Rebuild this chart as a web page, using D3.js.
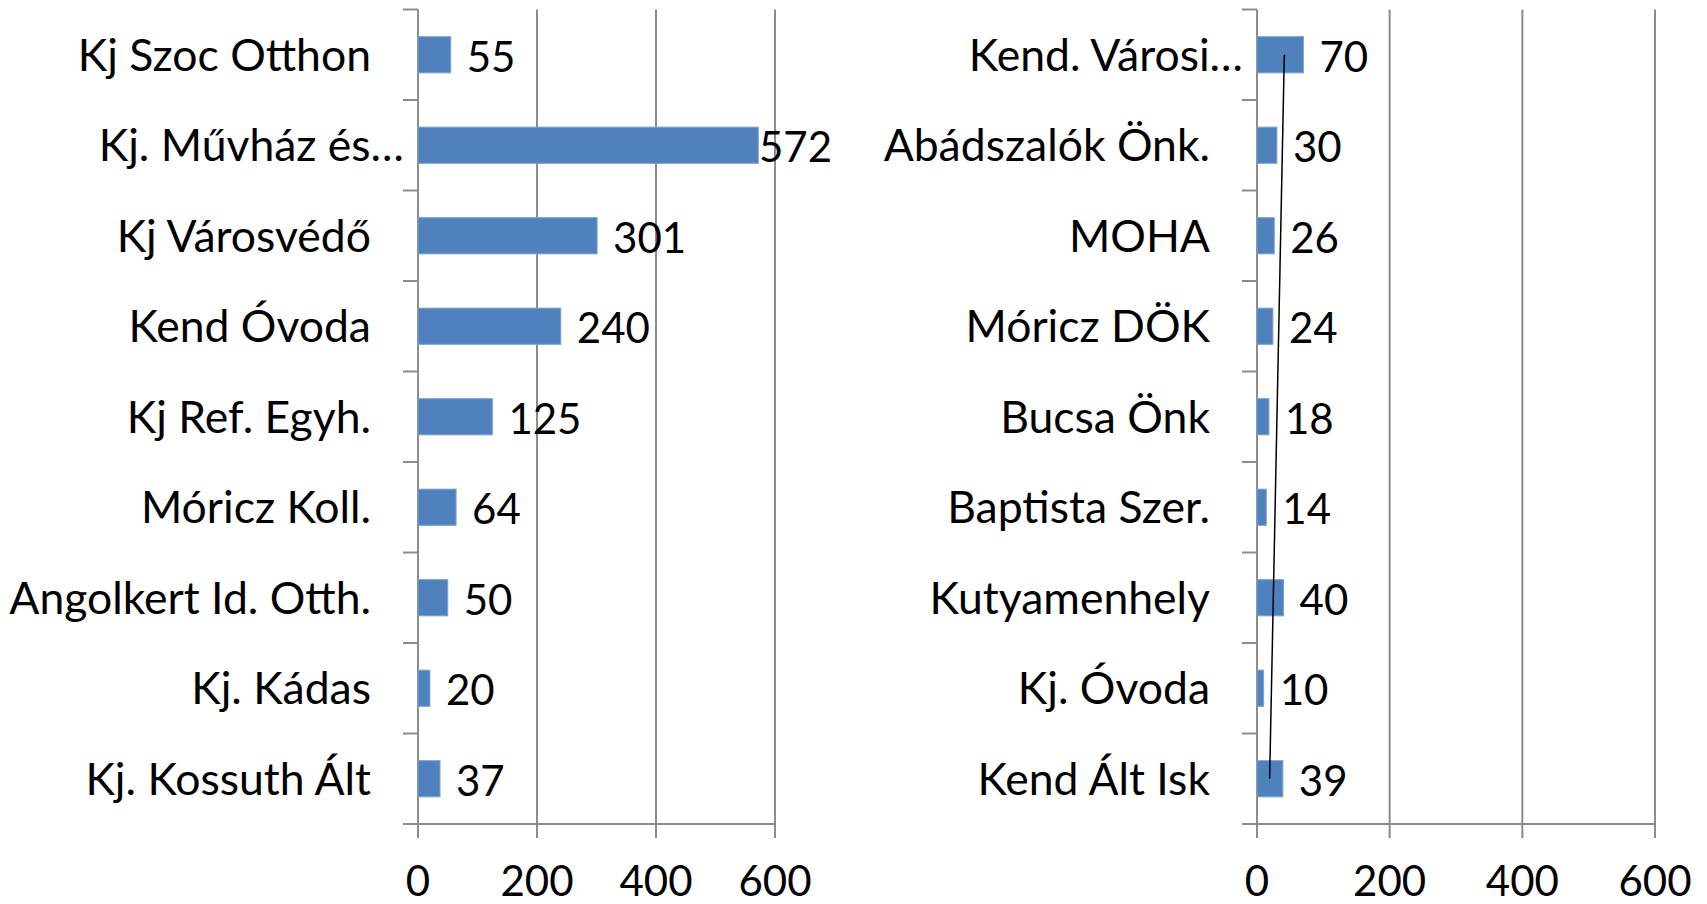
<!DOCTYPE html>
<html>
<head>
<meta charset="utf-8">
<script src="https://cdn.jsdelivr.net/npm/d3@7"></script>
<style>
  body { margin: 0; background: #fff; }
  text { font-family: Lato, "Open Sans", sans-serif; fill: #000; }
</style>
</head>
<body>
<script>
// Chart data
var leftCategories = ['Kj Szoc Otthon', 'Kj. Művház és…', 'Kj Városvédő', 'Kend Óvoda', 'Kj Ref. Egyh.',
                      'Móricz Koll.', 'Angolkert Id. Otth.', 'Kj. Kádas', 'Kj. Kossuth Ált'];
var leftValues = [55, 572, 301, 240, 125, 64, 50, 20, 37];

var rightCategories = ['Kend. Városi…', 'Abádszalók Önk.', 'MOHA', 'Móricz DÖK', 'Bucsa Önk',
                       'Baptista Szer.', 'Kutyamenhely', 'Kj. Óvoda', 'Kend Ált Isk'];
var rightValues = [70, 30, 26, 24, 18, 14, 40, 10, 39];

var xTicks = [0, 200, 400, 600];

// Size parameters
let width = 1707;
let height = 904;
let plotTop = 9.5;
let plotBottom = 824;
let fontSize = 42;
let labelFontSize = 44.5;
let gridColor = '#8c8c8c';
let barColor = '#4f81bd';

var svg = d3.select('body')
            .append('svg')
            .attr('width', width)
            .attr('height', height);

// Draw one bar chart panel
function drawPanel(categories, values, x0, x1, chartRight, trend) {
  let x = d3.scaleLinear().domain([0, 600]).range([x0, x1]);
  let y = d3.scaleBand().domain(categories).range([plotTop, plotBottom])
            .paddingInner(0.6).paddingOuter(0.3);
  let step = y.step();
  let g = svg.append('g');

  // Vertical gridlines with tick marks hanging below the axis
  g.selectAll('.grid').data(xTicks).enter().append('line')
    .attr('x1', d => x(d)).attr('x2', d => x(d))
    .attr('y1', plotTop).attr('y2', plotBottom + 14)
    .attr('stroke', gridColor).attr('stroke-width', 2);

  // Horizontal axis line
  g.append('line').attr('x1', x(0) - 15).attr('x2', x(600))
    .attr('y1', plotBottom).attr('y2', plotBottom)
    .attr('stroke', gridColor).attr('stroke-width', 2);

  // Category tick marks at band boundaries
  let bounds = d3.range(categories.length + 1).map(i => plotTop + i * step);
  g.selectAll('.ctick').data(bounds).enter().append('line')
    .attr('x1', x(0) - 15).attr('x2', x(0))
    .attr('y1', d => d).attr('y2', d => d)
    .attr('stroke', gridColor).attr('stroke-width', 2);

  // X tick labels
  g.selectAll('.xlab').data(xTicks).enter().append('text')
    .attr('x', d => x(d)).attr('y', 896)
    .attr('text-anchor', 'middle').attr('font-size', fontSize)
    .text(d => d);

  // Category labels, truncated ones run further right (as in the original)
  g.selectAll('.clab').data(categories).enter().append('text')
    .attr('x', d => d.endsWith('…') ? x(0) - 14 : x(0) - 47)
    .attr('y', d => y(d) + y.bandwidth() / 2)
    .attr('dy', '0.36em')
    .attr('text-anchor', 'end').attr('font-size', labelFontSize)
    .text(d => d);

  // Bars
  g.selectAll('.bar').data(values).enter().append('rect')
    .attr('x', x(0))
    .attr('y', (d, i) => y(categories[i]))
    .attr('width', d => x(d) - x(0))
    .attr('height', y.bandwidth())
    .attr('fill', barColor)
    .attr('stroke', '#7ea2d4').attr('stroke-width', 1);

  // Value labels, kept inside the panel
  g.selectAll('.vlab').data(values).enter().append('text')
    .attr('y', (d, i) => y(categories[i]) + y.bandwidth() / 2)
    .attr('dy', '0.40em')
    .attr('font-size', fontSize)
    .text(d => d)
    .attr('x', function(d) {
      let w = this.getComputedTextLength();
      return Math.min(x(d) + 16, chartRight - w);
    });

  // Linear trendline over the category index
  if (trend) {
    let n = values.length;
    let idx = d3.range(1, n + 1);
    let mx = d3.mean(idx), my = d3.mean(values);
    let slope = d3.sum(idx, (k, i) => (k - mx) * (values[i] - my)) / d3.sum(idx, k => (k - mx) * (k - mx));
    let at = k => my + slope * (k - mx);
    let c = i => y(categories[i]) + y.bandwidth() / 2;
    g.append('line')
      .attr('x1', x(at(1))).attr('y1', c(0))
      .attr('x2', x(at(n))).attr('y2', c(n - 1))
      .attr('stroke', '#000').attr('stroke-width', 1.5);
  }
}

drawPanel(leftCategories, leftValues, 418, 775, 832, false);
drawPanel(rightCategories, rightValues, 1257, 1655, 1707, true);
</script>
</body>
</html>
